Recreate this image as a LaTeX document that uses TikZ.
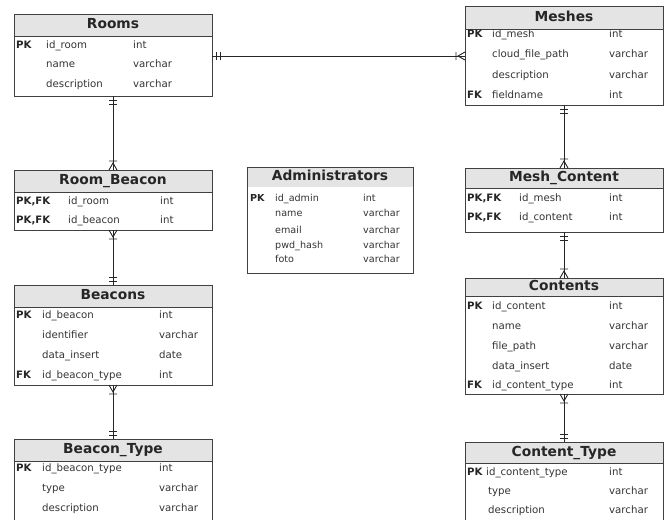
\documentclass[tikz,border=0pt]{standalone}
\usepackage{fontspec}
\setmainfont{DejaVu Sans}
\definecolor{hdrfill}{HTML}{E4E4E4}
\definecolor{edgegray}{HTML}{404040}
\definecolor{rowtext}{HTML}{333333}
\tikzset{
  tabhead/.style={draw=edgegray, fill=hdrfill, line width=1pt, inner sep=0pt, outer sep=0pt,
    anchor=north west, text=black!85, text height=10pt, text depth=3pt,
    font=\fontsize{13.8}{15}\selectfont\bfseries},
  tabbody/.style={draw=edgegray, line width=1pt, inner sep=0pt, outer sep=0pt, anchor=north west},
  fld/.style={anchor=west, inner sep=0pt, text=rowtext, text height=7.5pt, text depth=2.2pt,
    font=\fontsize{10.2}{12}\selectfont},
  keyfld/.style={fld, text=black!85, font=\fontsize{10.2}{12}\selectfont\bfseries},
  fldsmall/.style={fld, font=\fontsize{9.6}{11}\selectfont},
  keysmall/.style={keyfld, font=\fontsize{9.6}{11}\selectfont\bfseries},
  rel/.style={line width=0.9pt, black!85},
  onlyone/.pic={\draw[rel] (4pt,-4pt) -- (4pt,4pt) (8pt,-4pt) -- (8pt,4pt);},
  onemany/.pic={\draw[rel] (0pt,-4pt) -- (7pt,0pt) -- (0pt,4pt) (9pt,-4pt) -- (9pt,4pt);}
}
\begin{document}
\begin{tikzpicture}[x=1pt, y=-1pt]
  \useasboundingbox (0,0) rectangle (665,520);

  % left column
  \node[tabhead, minimum width=198pt, minimum height=22pt] (rooms) at (14,14) {Rooms};
  \node[tabbody, minimum width=198pt, minimum height=60pt] (roomsbody) at (14,36) {};
  \foreach \y/\k/\n/\t in {46/PK/id\_room/int, 65//name/varchar, 85//description/varchar}{
    \node[keyfld] (rooms-k\y) at (16,\y) {\k};
    \node[fld] (rooms-n\y) at (46,\y) {\n};
    \node[fld] (rooms-t\y) at (133,\y) {\t};
  }

  \node[tabhead, minimum width=198pt, minimum height=22pt] (roombeacon) at (14,170) {Room\_Beacon};
  \node[tabbody, minimum width=198pt, minimum height=38pt] (roombeaconbody) at (14,192) {};
  \foreach \y/\n in {202/id\_room, 221/id\_beacon}{
    \node[keyfld] (roombeacon-k\y) at (16,\y) {PK,FK};
    \node[fld] (roombeacon-n\y) at (68,\y) {\n};
    \node[fld] (roombeacon-t\y) at (160,\y) {int};
  }

  \node[tabhead, minimum width=198pt, minimum height=22pt] (beacons) at (14,285) {Beacons};
  \node[tabbody, minimum width=198pt, minimum height=78pt] (beaconsbody) at (14,307) {};
  \foreach \y/\k/\n/\t in {316/PK/id\_beacon/int, 336//identifier/varchar,
                           356//data\_insert/date, 376/FK/id\_beacon\_type/int}{
    \node[keyfld] (beacons-k\y) at (16,\y) {\k};
    \node[fld] (beacons-n\y) at (42,\y) {\n};
    \node[fld] (beacons-t\y) at (159,\y) {\t};
  }

  \node[tabhead, minimum width=198pt, minimum height=22pt] (beacontype) at (14,439) {Beacon\_Type};
  \node[tabbody, minimum width=198pt, minimum height=70pt] (beacontypebody) at (14,461) {};
  \foreach \y/\k/\n/\t in {469/PK/id\_beacon\_type/int, 489//type/varchar, 509//description/varchar}{
    \node[keyfld] (beacontype-k\y) at (16,\y) {\k};
    \node[fld] (beacontype-n\y) at (42,\y) {\n};
    \node[fld] (beacontype-t\y) at (159,\y) {\t};
  }

  % middle, header without a rule under it
  \node[tabhead, draw=none, minimum width=166pt, minimum height=20pt] (admins) at (247,167) {Administrators};
  \node[tabbody, minimum width=166pt, minimum height=106pt] (adminsbody) at (247,167) {};
  \foreach \y/\k/\n/\t in {199/PK/id\_admin/int, 214//name/varchar, 231//email/varchar,
                           246//pwd\_hash/varchar, 260//foto/varchar}{
    \node[keysmall] (admins-k\y) at (250,\y) {\k};
    \node[fldsmall] (admins-n\y) at (275,\y) {\n};
    \node[fldsmall] (admins-t\y) at (363,\y) {\t};
  }

  % right column
  \node[tabhead, minimum width=198pt, minimum height=23pt] (meshes) at (465,6) {Meshes};
  \node[tabbody, minimum width=198pt, minimum height=76pt] (meshesbody) at (465,29) {};
  \foreach \y/\k/\n/\t in {35/PK/id\_mesh/int, 55//cloud\_file\_path/varchar,
                           76//description/varchar, 96/FK/fieldname/int}{
    \node[keyfld] (meshes-k\y) at (467,\y) {\k};
    \node[fld] (meshes-n\y) at (492,\y) {\n};
    \node[fld] (meshes-t\y) at (609,\y) {\t};
  }

  \node[tabhead, minimum width=198pt, minimum height=20pt] (meshcontent) at (465,168) {Mesh\_Content};
  \node[tabbody, minimum width=198pt, minimum height=44pt] (meshcontentbody) at (465,188) {};
  \foreach \y/\n in {199/id\_mesh, 218/id\_content}{
    \node[keyfld] (meshcontent-k\y) at (467,\y) {PK,FK};
    \node[fld] (meshcontent-n\y) at (519,\y) {\n};
    \node[fld] (meshcontent-t\y) at (609,\y) {int};
  }

  \node[tabhead, minimum width=198pt, minimum height=18pt] (contents) at (465,278) {Contents};
  \node[tabbody, minimum width=198pt, minimum height=98pt] (contentsbody) at (465,296) {};
  \foreach \y/\k/\n/\t in {307/PK/id\_content/int, 327//name/varchar, 347//file\_path/varchar,
                           367//data\_insert/date, 386/FK/id\_content\_type/int}{
    \node[keyfld] (contents-k\y) at (467,\y) {\k};
    \node[fld] (contents-n\y) at (492,\y) {\n};
    \node[fld] (contents-t\y) at (609,\y) {\t};
  }

  \node[tabhead, minimum width=198pt, minimum height=21pt] (contenttype) at (465,442) {Content\_Type};
  \node[tabbody, minimum width=198pt, minimum height=70pt] (contenttypebody) at (465,463) {};
  \foreach \y/\k/\n/\t/\x in {473/PK/id\_content\_type/int/486, 492//type/varchar/488,
                              511//description/varchar/488}{
    \node[keyfld] (contenttype-k\y) at (467,\y) {\k};
    \node[fld] (contenttype-n\y) at (\x,\y) {\n};
    \node[fld] (contenttype-t\y) at (609,\y) {\t};
  }

  % relationships
  \coordinate (rm1) at ([yshift=10pt]roomsbody.east);
  \coordinate (rm2) at (rm1 -| meshesbody.west);
  \draw[rel] (rm1) -- (rm2);
  \pic at (rm1) {onlyone};
  \pic[rotate=180] at (rm2) {onemany};

  \draw[rel] (roomsbody.south) -- (roombeacon.north);
  \pic[rotate=-90] at (roomsbody.south) {onlyone};
  \pic[rotate=90] at (roombeacon.north) {onemany};

  \draw[rel] (roombeaconbody.south) -- (beacons.north);
  \pic[rotate=-90] at (roombeaconbody.south) {onemany};
  \pic[rotate=90] at (beacons.north) {onlyone};

  \draw[rel] (beaconsbody.south) -- (beacontype.north);
  \pic[rotate=-90] at (beaconsbody.south) {onemany};
  \pic[rotate=90] at (beacontype.north) {onlyone};

  \draw[rel] (meshesbody.south) -- (meshcontent.north);
  \pic[rotate=-90] at (meshesbody.south) {onlyone};
  \pic[rotate=90] at (meshcontent.north) {onemany};

  \draw[rel] (meshcontentbody.south) -- (contents.north);
  \pic[rotate=-90] at (meshcontentbody.south) {onlyone};
  \pic[rotate=90] at (contents.north) {onemany};

  \draw[rel] (contentsbody.south) -- (contenttype.north);
  \pic[rotate=-90] at (contentsbody.south) {onemany};
  \pic[rotate=90] at (contenttype.north) {onlyone};
\end{tikzpicture}
\end{document}
